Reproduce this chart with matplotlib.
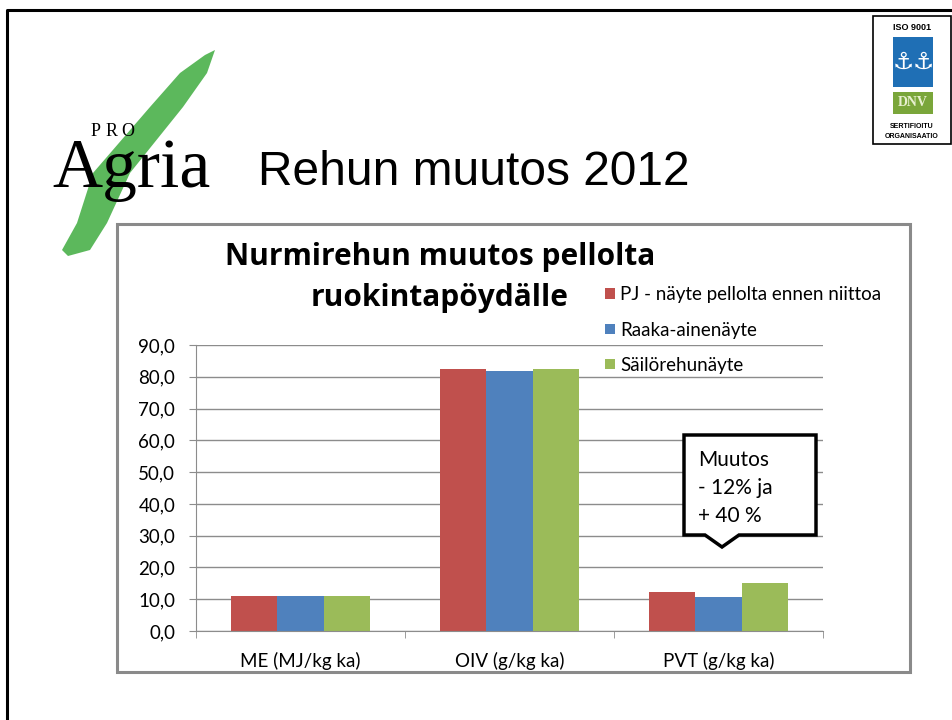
import matplotlib.pyplot as plt
from matplotlib.patches import Polygon, Rectangle
from matplotlib.ticker import FuncFormatter

# data
categories = ["ME (MJ/kg ka)", "OIV (g/kg ka)", "PVT (g/kg ka)"]
series = ["PJ - näyte pellolta ennen niittoa", "Raaka-ainenäyte", "Säilörehunäyte"]
pj = [11.0, 82.3, 12.3]
raaka = [11.0, 81.8, 10.8]
sailo = [11.0, 82.4, 15.1]
colors = ["#C0504D", "#4F81BD", "#9BBB59"]
y_ticks = [0, 10, 20, 30, 40, 50, 60, 70, 80, 90]

W, H = 953, 720
fig = plt.figure(figsize=(W / 100, H / 100), dpi=100)

# background layer in pixel coords (slide decorations)
bg = fig.add_axes([0, 0, 1, 1], zorder=0)
bg.set_xlim(0, W)
bg.set_ylim(H, 0)
bg.axis("off")

# slide border
bg.plot([7, 7, W], [H, 10, 10], color="black", lw=2.2)

# ProAgria logo
stroke = [(215, 50), (207, 73), (183, 107), (130, 173), (107, 223), (90, 250), (68, 256),
          (62, 250), (77, 223), (93, 173), (150, 107), (180, 73), (205, 55)]
bg.add_patch(Polygon(stroke, closed=True, color="#5cb85c", lw=0))
for xx, ch in zip([91, 106, 121], "PRO"):
    bg.text(xx, 136, ch, family="Liberation Serif", fontsize=13, va="baseline")
bg.text(52, 187, "Agria", family="Liberation Serif", fontsize=50, va="baseline")

# slide title
bg.text(258, 185, "Rehun muutos 2012", family="Liberation Sans", fontsize=34.5, va="baseline")

# ISO / DNV logo
bg.add_patch(Rectangle((873, 16), 78, 128, facecolor="white", edgecolor="black", lw=1.2))
bg.text(912, 28, "ISO 9001", family="Liberation Sans", weight="bold", fontsize=6.5,
        ha="center", va="center")
bg.add_patch(Rectangle((893, 37), 40, 50, color="#1f6fb5", lw=0))
bg.text(903, 62, "\u2693", family="DejaVu Sans", color="white", fontsize=17, ha="center", va="center")
bg.text(923, 62, "\u2693", family="DejaVu Sans", color="white", fontsize=17, ha="center", va="center")
bg.add_patch(Rectangle((893, 92), 40, 22, color="#7aa63a", lw=0))
bg.text(913, 103, "DNV", family="Liberation Serif", weight="bold", color="#e8f0d0",
        fontsize=10, ha="center", va="center")
bg.text(912, 127, "SERTIFIOITU", family="Liberation Sans", weight="bold", fontsize=5,
        ha="center", va="center")
bg.text(912, 137, "ORGANISAATIO", family="Liberation Sans", weight="bold", fontsize=5,
        ha="center", va="center")

# chart frame
bg.add_patch(Rectangle((117, 224), 793, 448, facecolor="white", edgecolor="#8a8a8a", lw=2.2))

# chart title
bg.text(440, 257, "Nurmirehun muutos pellolta", family="Open Sans", weight="bold", fontsize=21.5,
        ha="center", va="center")
bg.text(440, 298, "ruokintapöydälle", family="Open Sans", weight="bold", fontsize=21.5,
        ha="center", va="center")

# chart axes
ax = fig.add_axes([196 / W, 1 - 631 / H, (823 - 196) / W, (631 - 345) / H], zorder=1)
ax.patch.set_alpha(0)
x = list(range(len(categories)))
bw = 0.2225
for i, (vals, c, lab) in enumerate(zip([pj, raaka, sailo], colors, series)):
    ax.bar([xi + (i - 1) * bw for xi in x], vals, width=bw, color=c, label=lab, zorder=2)

ax.set_xlim(-0.5, 2.5)
ax.set_ylim(0, 90)
ax.set_yticks(y_ticks)
ax.yaxis.set_major_formatter(FuncFormatter(lambda v, p: f"{v:.1f}".replace(".", ",")))
ax.grid(axis="y", color="#8c8c8c", lw=1, zorder=0)
ax.set_axisbelow(True)
for s in ["top", "right"]:
    ax.spines[s].set_visible(False)
for s in ["left", "bottom"]:
    ax.spines[s].set_color("#8c8c8c")
ax.set_xticks(x)
ax.set_xticklabels(categories)
ax.set_xticks([-0.5, 0.5, 1.5, 2.5], minor=True)
ax.tick_params(axis="x", which="major", length=0, pad=15)
ax.tick_params(axis="x", which="minor", length=5, color="#8c8c8c")
ax.tick_params(axis="y", length=5, color="#8c8c8c", pad=10)
for lab in ax.get_xticklabels() + ax.get_yticklabels():
    lab.set_family("Lato")
    lab.set_fontsize(13.5)

ax.legend(loc="upper left", bbox_to_anchor=(596 / W, 1 - 277 / H), bbox_transform=fig.transFigure,
          frameon=False, prop={"family": "Lato", "size": 13.5}, handlelength=0.5,
          handleheight=0.5, handletextpad=0.3, labelspacing=0.97, borderpad=0)

# callout
top = fig.add_axes([0, 0, 1, 1], zorder=3)
top.set_xlim(0, W)
top.set_ylim(H, 0)
top.axis("off")
call = [(684, 435), (816, 435), (816, 535), (739, 535), (722, 547), (705, 535), (684, 535)]
top.add_patch(Polygon(call, closed=True, facecolor="white", edgecolor="black", lw=2.5,
                      joinstyle="miter"))
for yy, t in zip([460, 488, 516], ["Muutos", "- 12% ja", "+ 40 %"]):
    top.text(698, yy, t, family="Lato", fontsize=15, va="center")

fig.savefig("out.png", dpi=100)
